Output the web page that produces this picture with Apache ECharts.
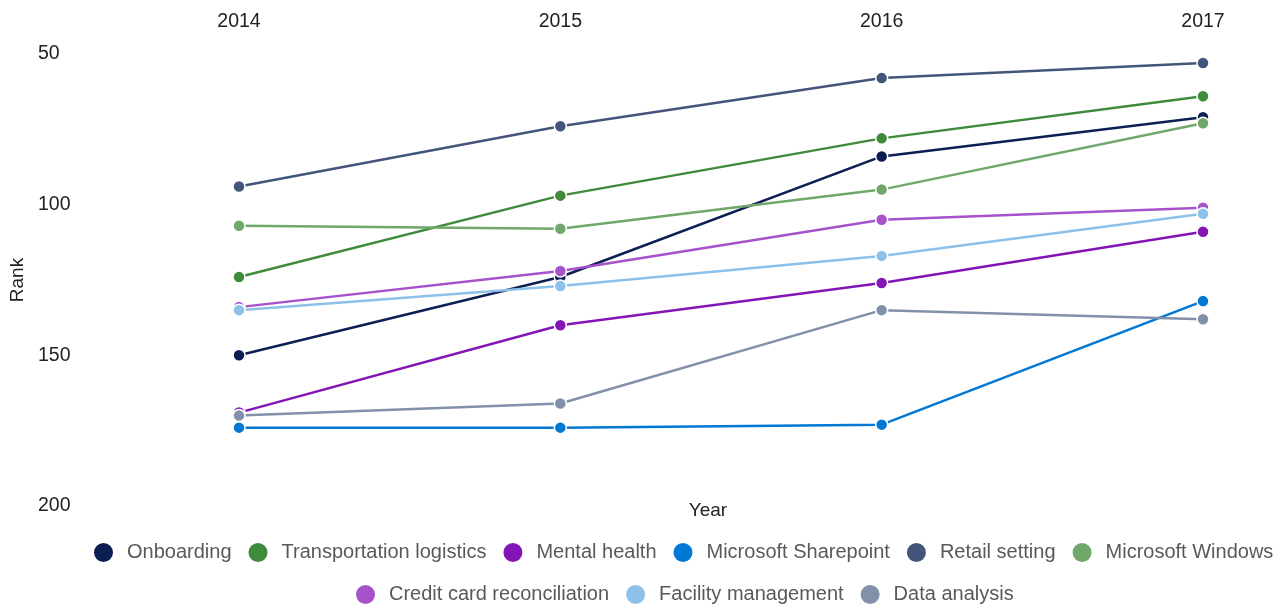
<!DOCTYPE html>
<html>
<head>
<meta charset="utf-8">
<script src="https://cdn.jsdelivr.net/npm/echarts@6/dist/echarts.min.js"></script>
<style>
  html, body { margin: 0; padding: 0; background: #fff; }
  #chart { width: 1284px; height: 610px; }
</style>
</head>
<body>
<div id="chart"></div>
<script>
const years = ["2014", "2015", "2016", "2017"];

const onboarding = [150, 124, 84, 71];
const transportation = [124, 97, 78, 64];
const mentalHealth = [169, 140, 126, 109];
const sharepoint = [174, 174, 173, 132];
const retail = [94, 74, 58, 53];
const windows = [107, 108, 95, 73];
const creditCard = [134, 122, 105, 101];
const facility = [135, 127, 117, 103];
const dataAnalysis = [170, 166, 135, 138];

const names = [
  "Onboarding", "Transportation logistics", "Mental health", "Microsoft Sharepoint",
  "Retail setting", "Microsoft Windows", "Credit card reconciliation",
  "Facility management", "Data analysis"
];
const values = [onboarding, transportation, mentalHealth, sharepoint, retail,
  windows, creditCard, facility, dataAnalysis];
const colors = ["#0b1f52", "#3f8a3b", "#8315b7", "#0078d4", "#44557b",
  "#70a86b", "#a652cb", "#8ec1ea", "#8390aa"];

const font = "'Liberation Sans', Arial, sans-serif";

const chart = echarts.init(document.getElementById("chart"));

const series = names.map((n, i) => ({
  name: n,
  type: "line",
  data: values[i],
  color: colors[i],
  symbol: "circle",
  symbolSize: 12,
  lineStyle: { width: 2.5 },
  itemStyle: { borderColor: "#fff", borderWidth: 1.5 },
  emphasis: { disabled: true }
}));

const legendStyle = {
  orient: "horizontal",
  icon: "circle",
  padding: 0,
  width: 1220,
  itemWidth: 21,
  itemHeight: 21,
  itemGap: 15,
  textStyle: { fontFamily: font, fontSize: 20, color: "#595959", padding: [0, 0, 0, 8] }
};

chart.setOption({
  animation: false,
  textStyle: { fontFamily: font },
  grid: { left: 238, right: 81, top: 54, bottom: 104 },
  legend: [
    Object.assign({ data: names.slice(0, 6), left: 92, top: 541 }, legendStyle),
    Object.assign({ data: names.slice(6), left: 354, top: 583 }, legendStyle)
  ],
  xAxis: [
    {
      type: "category",
      data: years,
      position: "top",
      boundaryGap: false,
      axisLine: { show: false },
      axisTick: { show: false },
      splitLine: { show: false },
      axisLabel: { margin: 22, fontSize: 19.5, color: "#222", fontFamily: font }
    },
    {
      type: "category",
      data: years,
      position: "bottom",
      boundaryGap: false,
      axisLine: { show: false },
      axisTick: { show: false },
      axisLabel: { show: false },
      name: "Year",
      nameLocation: "middle",
      nameGap: -5,
      nameTextStyle: { fontSize: 19, color: "#222", fontFamily: font, padding: [0, 26, 0, 0] }
    }
  ],
  yAxis: {
    type: "value",
    inverse: true,
    min: 50,
    max: 200,
    interval: 50,
    name: "Rank",
    nameLocation: "middle",
    nameGap: 212,
    nameTextStyle: { fontSize: 19, color: "#222", fontFamily: font },
    axisLine: { show: false },
    axisTick: { show: false },
    splitLine: { show: false },
    axisLabel: { align: "left", margin: 201, fontSize: 19.5, color: "#222", fontFamily: font, padding: [3, 0, 0, 0] }
  },
  series
});
</script>
</body>
</html>
